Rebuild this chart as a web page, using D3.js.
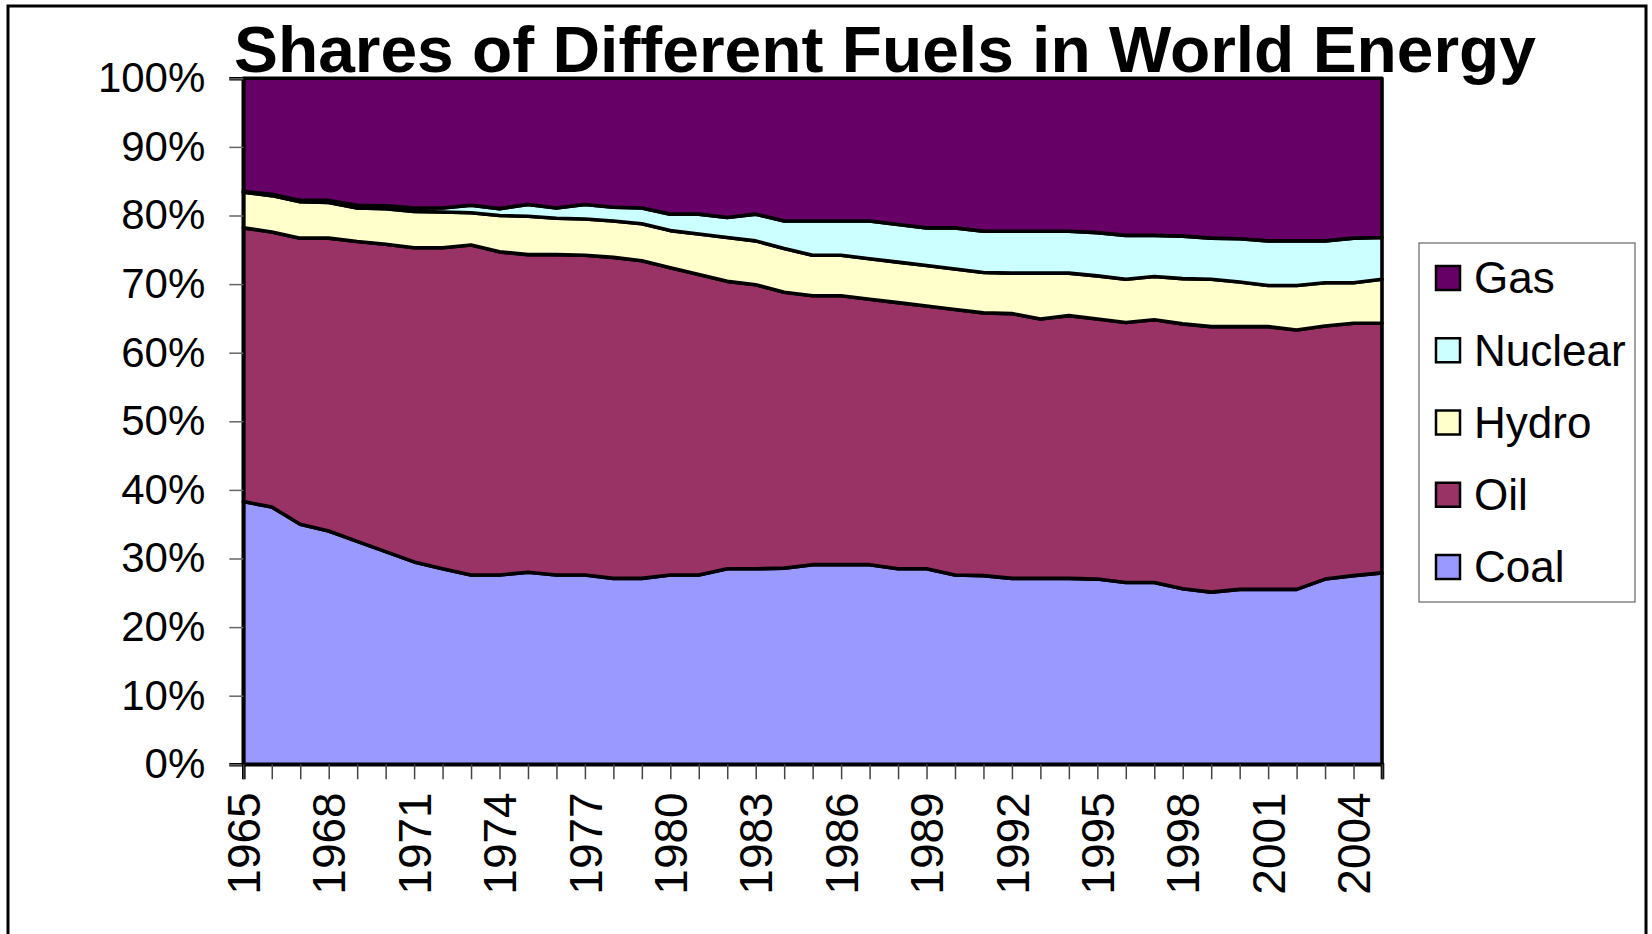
<!DOCTYPE html>
<html>
<head>
<meta charset="utf-8">
<script src="https://cdn.jsdelivr.net/npm/d3@7"></script>
<style>
  html, body { margin: 0; padding: 0; background: #fff; }
  svg { display: block; }
  text { font-family: "Liberation Sans", Arial, sans-serif; }
</style>
</head>
<body>
<svg id="chart" width="1652" height="934"></svg>
<script>
// ---- Data (percent shares) ----
const years = d3.range(1965, 2006);
const coal    = [38.3,37.5,35.0,34.0,32.5,31.0,29.5,28.5,27.6,27.6,28.0,27.6,27.6,27.1,27.1,27.6,27.6,28.5,28.5,28.6,29.1,29.1,29.1,28.5,28.5,27.6,27.5,27.1,27.1,27.1,27.0,26.5,26.5,25.6,25.1,25.5,25.5,25.5,27.0,27.5,27.9];
const oil     = [39.9,40.1,41.7,42.7,43.7,44.8,45.8,46.8,48.1,47.1,46.3,46.7,46.6,46.8,46.3,44.8,43.8,41.9,41.4,40.2,39.2,39.2,38.7,38.8,38.3,38.7,38.3,38.6,37.8,38.3,37.9,37.9,38.3,38.6,38.7,38.3,38.3,37.8,36.9,36.8,36.4];
const hydro   = [5.2,5.3,5.3,5.2,4.9,5.2,5.3,5.2,4.7,5.3,5.6,5.3,5.3,5.3,5.4,5.4,5.9,6.4,6.4,6.4,5.9,5.9,5.9,5.9,5.9,5.9,5.9,5.9,6.7,6.2,6.3,6.3,6.3,6.6,6.9,6.5,6.0,6.5,6.3,5.9,6.4];
const nuclear = [0.1,0.2,0.2,0.3,0.4,0.4,0.5,0.6,1.1,1.0,1.7,1.5,2.1,2.0,2.3,2.4,2.9,2.9,3.9,4.0,5.0,5.0,5.5,5.5,5.5,6.0,6.0,6.1,6.1,6.1,6.3,6.4,6.0,6.2,6.0,6.3,6.5,6.5,6.1,6.5,6.1];
const gas     = [16.5,16.9,17.8,17.8,18.5,18.6,18.9,18.9,18.5,19.0,18.4,18.9,18.4,18.8,18.9,19.8,19.8,20.3,19.8,20.8,20.8,20.8,20.8,21.3,21.8,21.8,22.3,22.3,22.3,22.3,22.5,22.9,22.9,23.0,23.3,23.4,23.7,23.7,23.7,23.3,23.2];

const seriesNames = ["Coal", "Oil", "Hydro", "Nuclear", "Gas"];
const seriesColors = ["#9999FF", "#993366", "#FFFFCC", "#CCFFFF", "#660066"];
const legendOrder = ["Gas", "Nuclear", "Hydro", "Oil", "Coal"];
const yTickValues = [0, 0.1, 0.2, 0.3, 0.4, 0.5, 0.6, 0.7, 0.8, 0.9, 1.0];
const xLabelYears = d3.range(1965, 2005, 3);
const titleText = "Shares of Different Fuels in World Energy";

// ---- Build table ----
const seriesValues = [coal, oil, hydro, nuclear, gas];
const table = years.map((y, i) => {
  const row = { year: y };
  seriesNames.forEach((n, k) => row[n] = seriesValues[k][i]);
  return row;
});

const svg = d3.select("#chart");

// Outer border
svg.append("rect")
  .attr("x", 8).attr("y", 6)
  .attr("width", 1638).attr("height", 1000)
  .attr("fill", "#fff").attr("stroke", "#000").attr("stroke-width", 3);

const plot = { left: 243.3, right: 1382, top: 78.3, bottom: 764.3 };

const x = d3.scaleLinear().domain([1965, 2005]).range([plot.left, plot.right]);
const y = d3.scaleLinear().domain([0, 1]).range([plot.bottom, plot.top]);

const stack = d3.stack().keys(seriesNames).offset(d3.stackOffsetExpand);
const stacked = stack(table);

const area = d3.area()
  .x(d => x(d.data.year))
  .y0(d => y(d[0]))
  .y1(d => y(d[1]));

const color = d3.scaleOrdinal().domain(seriesNames).range(seriesColors);

svg.append("g").selectAll("path")
  .data(stacked)
  .join("path")
  .attr("d", area)
  .attr("fill", d => color(d.key))
  .attr("stroke", "#000")
  .attr("stroke-width", 3.6)
  .attr("stroke-linejoin", "round");

// Y axis
const yAxis = d3.axisLeft(y)
  .tickValues(yTickValues)
  .tickFormat(d3.format(".0%"))
  .tickSize(14)
  .tickPadding(24);
const gy = svg.append("g").attr("transform", `translate(${plot.left},0)`).call(yAxis);
gy.select(".domain").attr("stroke", "#000").attr("stroke-width", 3.6);
gy.selectAll(".tick line").attr("stroke", "#666").attr("stroke-width", 1.5);
gy.selectAll(".tick text")
  .attr("font-size", 42)
  .attr("font-family", "Liberation Sans, Arial, sans-serif")
  .attr("fill", "#000");

// X axis
const xAxis = d3.axisBottom(x)
  .tickValues(years)
  .tickSize(15)
  .tickFormat(d => xLabelYears.includes(d) ? String(d) : "");
const gx = svg.append("g").attr("transform", `translate(0,${plot.bottom})`).call(xAxis);
gx.select(".domain").attr("stroke", "#000").attr("stroke-width", 3.6);
gx.selectAll(".tick line").attr("stroke", "#444").attr("stroke-width", 1.5);
gx.selectAll(".tick text")
  .attr("font-size", 46)
  .attr("font-family", "Liberation Sans, Arial, sans-serif")
  .attr("fill", "#000")
  .attr("transform", "rotate(-90)")
  .attr("text-anchor", "end")
  .attr("x", -28)
  .attr("y", 0)
  .attr("dy", "0.35em");

// Title
svg.append("text")
  .attr("x", 885).attr("y", 72)
  .attr("text-anchor", "middle")
  .attr("font-size", 64)
  .attr("font-weight", "bold")
  .attr("textLength", 1302)
  .attr("lengthAdjust", "spacingAndGlyphs")
  .attr("fill", "#000")
  .text(titleText);

// Legend
const lg = svg.append("g");
lg.append("rect")
  .attr("x", 1419).attr("y", 243)
  .attr("width", 216).attr("height", 359)
  .attr("fill", "#fff").attr("stroke", "#666").attr("stroke-width", 1.2);
const legendY = d3.scalePoint().domain(legendOrder).range([278, 567]);
const items = lg.selectAll("g.item").data(legendOrder).join("g")
  .attr("class", "item")
  .attr("transform", d => `translate(1436,${legendY(d)})`);
items.append("rect")
  .attr("x", 0).attr("y", -12)
  .attr("width", 24).attr("height", 24)
  .attr("fill", d => color(d))
  .attr("stroke", "#000").attr("stroke-width", 2.5);
items.append("text")
  .attr("x", 38).attr("y", 0)
  .attr("dy", "0.35em")
  .attr("font-size", 44)
  .attr("fill", "#000")
  .text(d => d);
</script>
</body>
</html>
